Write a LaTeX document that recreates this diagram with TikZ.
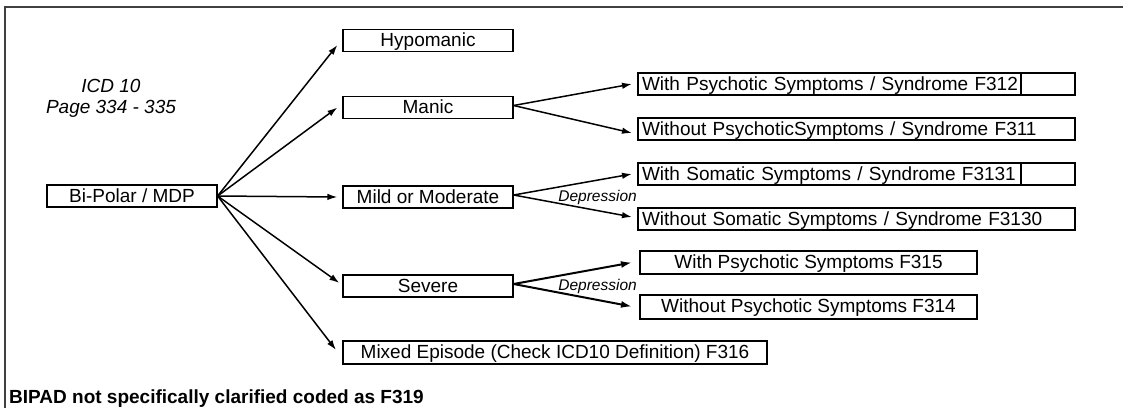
\documentclass[tikz,border=0pt]{standalone}
\usepackage{fontspec}
\setmainfont{Liberation Sans}
\usetikzlibrary{arrows.meta}
\begin{document}
\begin{tikzpicture}[x=1pt,y=-1pt,
  txt/.style={font=\fontsize{19pt}{21pt}\selectfont, inner sep=0pt},
  lbox/.style={txt, draw, line width=1.2pt, minimum width=170pt, minimum height=22pt, text height=13.6pt, text depth=1.2pt},
  rbox/.style={txt, draw, line width=2pt, minimum height=22pt, text height=13.6pt, text depth=1.2pt},
  widebox/.style={rbox, text width=429pt, inner xsep=4pt, align=left},
  sbox/.style={rbox, minimum width=337pt},
  arr/.style={-{Latex[length=10pt,width=6.5pt]}, line width=1.5pt},
  thickarr/.style={-{Latex[length=11pt,width=7pt]}, line width=2pt},
  dep/.style={font=\fontsize{15.5pt}{17pt}\selectfont\itshape, inner sep=0pt},
  divider/.style={line width=2pt}
]
\useasboundingbox (0,0) rectangle (1123,408);
\fill[white] (0,0) rectangle (1123,408);
% frame
\draw[line width=1.3pt, black!75] (5,408) -- (5,7) -- (1123,7);

% notes
\node[font=\fontsize{19pt}{21pt}\selectfont\itshape, inner sep=0pt, anchor=base] (icd1) at (111,92) {ICD 10};
\node[font=\fontsize{19pt}{21pt}\selectfont\itshape, inner sep=0pt, anchor=base] (icd2) at (111,113) {Page 334 - 335};
\node[font=\fontsize{19pt}{21pt}\selectfont\bfseries, inner sep=0pt, anchor=base west] (note) at (9,403) {BIPAD not specifically clarified coded as F319};

% left column
\node[lbox] (bp) at (132,196) {Bi-Polar / MDP};
\node[lbox] (hypo) at (428,40.5) {Hypomanic};
\node[lbox] (manic) at (428,107.5) {Manic};
\node[lbox] (mild) at (428,197) {Mild or Moderate};
\node[lbox] (severe) at (428,286) {Severe};
\node[rbox, minimum width=424pt, minimum height=23pt] (mixed) at (555,352.5) {Mixed Episode (Check ICD10 Definition) F316};

% right column
\node[widebox] (r1) at (856.5,84) {With Psychotic Symptoms / Syndrome F312};
\node[widebox] (r2) at (856.5,129) {Without PsychoticSymptoms / Syndrome F311};
\node[widebox] (r3) at (856.5,174) {With Somatic Symptoms / Syndrome F3131};
\node[widebox] (r4) at (856.5,219) {Without Somatic Symptoms / Syndrome F3130};
\draw[divider] ([xshift=384pt]r1.north west) -- ([xshift=384pt]r1.south west);
\draw[divider] ([xshift=384pt]r3.north west) -- ([xshift=384pt]r3.south west);

\node[sbox, minimum height=23pt] (s1) at (808.5,262.5) {With Psychotic Symptoms F315};
\node[sbox, minimum height=24pt] (s2) at (808.5,306.5) {Without Psychotic Symptoms F314};

% depression labels
\node[dep, anchor=east] (dep1) at (637,197) {Depression};
\node[dep, anchor=east] (dep2) at (637,286) {Depression};

% connectors from Bi-Polar
\draw[arr] (bp.east) -- ([xshift=-5pt,yshift=-4.5pt]hypo.west);
\draw[arr] (bp.east) -- ([xshift=-5pt]manic.west);
\draw[arr] (bp.east) -- ([xshift=-5pt]mild.west);
\draw[arr] (bp.east) -- ([xshift=-3pt,yshift=3pt]severe.west);
\draw[arr] (bp.east) -- ([xshift=-6pt,yshift=2.5pt]mixed.west);

% Manic
\draw[arr] ([yshift=2pt]manic.east) -- ([xshift=-5pt]r1.west);
\draw[arr] ([yshift=2pt]manic.east) -- ([xshift=-5pt,yshift=-4pt]r2.west);
% Mild
\draw[arr] ([yshift=2pt]mild.east) -- ([xshift=-5pt]r3.west);
\draw[arr] ([yshift=2pt]mild.east) -- ([xshift=-5pt,yshift=2pt]r4.west);
% Severe
\draw[thickarr] ([yshift=2pt]severe.east) -- ([xshift=-7pt]s1.west);
\draw[thickarr] ([yshift=2pt]severe.east) -- ([xshift=-7pt]s2.west);
\end{tikzpicture}
\end{document}
